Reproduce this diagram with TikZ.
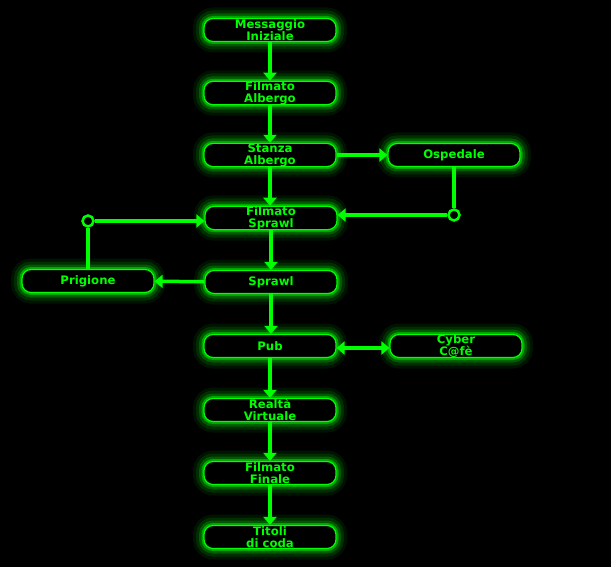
\documentclass[tikz,border=0pt]{standalone}
\usepackage{fontspec}
\setmainfont{DejaVu Sans}
\usetikzlibrary{arrows.meta}
\definecolor{neon}{RGB}{0,255,0}
\tikzset{
  stato/.style={draw=neon, line width=1.2pt, fill=black, rounded corners=9pt,
    minimum width=132pt, minimum height=23pt, inner sep=0pt,
    text=neon, align=center, font=\bfseries\fontsize{11.7}{12}\selectfont,
    preaction={draw=neon, line width=22pt, opacity=.07},
    preaction={draw=neon, line width=16pt, opacity=.12},
    preaction={draw=neon, line width=10pt, opacity=.22},
    preaction={draw=neon, line width=5pt, opacity=.45}},
  freccia/.style={draw=neon, line width=3.5pt, -{Triangle[width=13pt,length=8pt]}},
  giunto/.style={circle, draw=neon, fill=black, line width=2.5pt,
    minimum size=11pt, inner sep=0pt}
}
\begin{document}
\begin{tikzpicture}[x=1pt,y=-1pt]
   \fill[black] (0,0) rectangle (611,567);
   \useasboundingbox (0,0) rectangle (611,567);

   \node[stato] (msg)  at (270,30)  {Messaggio\\Iniziale};
   \node[stato] (falb) at (270,93)  {Filmato\\Albergo};
   \node[stato] (salb) at (270,155) {Stanza\\Albergo};
   \node[stato] (fspr) at (271,218) {Filmato\\Sprawl};
   \node[stato] (spr)  at (271,282) {Sprawl};
   \node[stato] (pub)  at (270,346) {Pub};
   \node[stato] (rv)   at (270,410) {Realtà\\Virtuale};
   \node[stato] (ffin) at (270,473) {Filmato\\Finale};
   \node[stato] (tit)  at (270,537) {Titoli\\di coda};

   \node[stato] (osp)  at (454,155) {Ospedale};
   \node[stato] (pri)  at (88,281)  {Prigione};
   \node[stato] (cyb)  at (456,346) {Cyber\\C@fè};

   \node[giunto] (gosp) at (454,215) {};
   \node[giunto] (gpri) at (88,221)  {};

   \path (msg)  edge[freccia] (falb);
   \path (falb) edge[freccia] (salb);
   \path (salb) edge[freccia] (salb |- fspr.north);
   \path (fspr) edge[freccia] (fspr |- spr.north);
   \path (spr)  edge[freccia] (spr |- pub.north);
   \path (pub)  edge[freccia] (rv);
   \path (rv)   edge[freccia] (ffin);
   \path (ffin) edge[freccia] (tit);

   \path (salb) edge[freccia] (osp);
   \path (spr)  edge[freccia] (pri);
   \path ([yshift=-2pt]pub.east) edge[freccia, {Triangle[width=13pt,length=8pt]}-{Triangle[width=13pt,length=8pt]}] ([yshift=-2pt]cyb.west);

   \path (osp)  edge[draw=neon, line width=3.5pt] (gosp);
   \path (gosp) edge[freccia] (gosp -| fspr.east);
   \path (pri)  edge[draw=neon, line width=3.5pt] (gpri);
   \path (gpri) edge[freccia] (gpri -| fspr.west);

   \end{tikzpicture}
\end{document}
